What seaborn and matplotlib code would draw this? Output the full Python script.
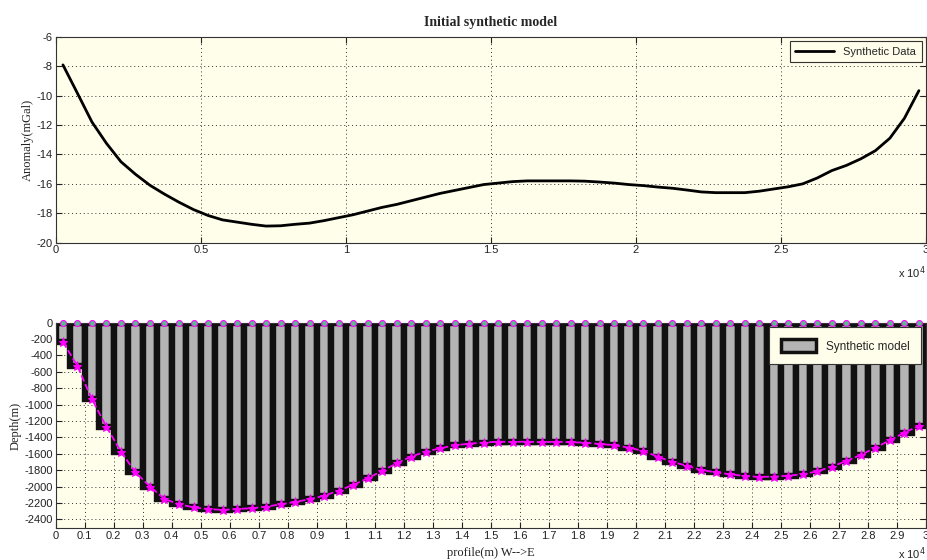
import numpy as np
import pandas as pd
import matplotlib
matplotlib.use("Agg")
import matplotlib.pyplot as plt
import seaborn as sns
from matplotlib.patches import Patch
from matplotlib.lines import Line2D

# ---------------- data ----------------
profile_x = [250 + 500 * i for i in range(60)]  # station positions (m)

anomaly = [-7.92, -9.85, -11.8, -13.25, -14.5, -15.35, -16.1, -16.7, -17.25, -17.75,
           -18.15, -18.45, -18.6, -18.75, -18.87, -18.85, -18.75, -18.67, -18.5, -18.3,
           -18.1, -17.85, -17.6, -17.4, -17.15, -16.9, -16.65, -16.45, -16.25, -16.05,
           -15.95, -15.85, -15.8, -15.8, -15.8, -15.8, -15.82, -15.88, -15.95, -16.05,
           -16.12, -16.22, -16.3, -16.42, -16.55, -16.6, -16.6, -16.6, -16.5, -16.35,
           -16.2, -16.0, -15.6, -15.1, -14.75, -14.3, -13.75, -12.9, -11.55, -9.67]

depth = [-235, -530, -935, -1270, -1575, -1827, -2000, -2152, -2217, -2254,
         -2274, -2286, -2274, -2266, -2246, -2217, -2189, -2154, -2113, -2050,
         -1981, -1900, -1810, -1717, -1635, -1574, -1534, -1497, -1477, -1464,
         -1452, -1456, -1452, -1460, -1452, -1460, -1464, -1481, -1495, -1525,
         -1566, -1635, -1700, -1745, -1798, -1827, -1851, -1871, -1883, -1879,
         -1867, -1851, -1814, -1757, -1688, -1615, -1525, -1436, -1342, -1261]

surface = [0] * 60

top_xticks = [0, 5000, 10000, 15000, 20000, 25000, 30000]
top_yticks = [-20, -18, -16, -14, -12, -10, -8, -6]
bot_xticks = [1000 * i for i in range(31)]
bot_yticks = [0, -200, -400, -600, -800, -1000, -1200, -1400, -1600, -1800,
              -2000, -2200, -2400]

df = pd.DataFrame({"x": profile_x, "anomaly": anomaly, "depth": depth, "surface": surface})

# ---------------- style ----------------
sns.set_theme(style="ticks")
plt.rcParams["font.family"] = ["Liberation Sans", "DejaVu Sans"]
plt.rcParams["axes.linewidth"] = 0.8
plt.rcParams["axes.edgecolor"] = "#333333"

CREAM = "#fffeeb"
SERIF = ["Liberation Serif", "DejaVu Serif"]

fig = plt.figure(figsize=(9.28, 5.60), dpi=100)
ax1 = fig.add_axes([0.060, 0.5666, 0.938, 0.368])
ax2 = fig.add_axes([0.060, 0.0566, 0.938, 0.3672])

def style_axes(ax):
    ax.set_facecolor(CREAM)
    ax.tick_params(direction="in", top=True, right=True, labelsize=8, length=4,
                   width=0.8, colors="#222222", pad=2)
    ax.grid(True, linestyle=(0, (1, 3)), color="#333333", linewidth=0.7)
    for s in ax.spines.values():
        s.set_visible(True)
        s.set_color("#333333")

# ---------------- top panel ----------------
sns.lineplot(data=df, x="x", y="anomaly", ax=ax1, color="black", linewidth=2.0,
             label="Synthetic Data", legend=False)
ax1.set_xlim(0, 30000)
ax1.set_ylim(-20, -6)
ax1.set_xticks(top_xticks)
ax1.set_xticklabels([f"{v/1e4:g}" for v in top_xticks])
ax1.set_yticks(top_yticks)
ax1.set_yticklabels([str(v) for v in top_yticks])
style_axes(ax1)
ax1.set_xlabel("")
ax1.set_ylabel("Anomaly(mGal)", family=SERIF, fontsize=9, color="#222222", labelpad=2)
ax1.set_title("Initial synthetic model", family=SERIF, fontsize=10, fontweight="bold",
              pad=8)
leg1 = ax1.legend(handles=[Line2D([], [], color="black", lw=2.0)], labels=["Synthetic Data"],
                  loc="upper right", fontsize=8, frameon=True, fancybox=False,
                  edgecolor="#333333", facecolor=CREAM, framealpha=1,
                  borderaxespad=0.4, handlelength=3.5, borderpad=0.5)
leg1.get_frame().set_linewidth(0.8)
fig.text(0.997, 0.513, r"x 10$^4$", fontsize=8, ha="right", va="center", color="#222222")

# ---------------- bottom panel ----------------
sns.barplot(data=df, x="x", y="depth", ax=ax2, native_scale=True, width=1.0,
            color="#b4b4b4", saturation=1, edgecolor="#111111", linewidth=4.6,
            errorbar=None, zorder=2)
sns.lineplot(data=df, x="x", y="depth", ax=ax2, color="#ff00ff", linewidth=1.3,
             linestyle="--", marker="*", markersize=6.5, markeredgecolor="#ff00ff",
             markerfacecolor="#ff00ff", zorder=4)
sns.scatterplot(data=df, x="x", y="surface", ax=ax2, marker="o", s=18,
                facecolor="#55c08a", edgecolor="#ff00ff", linewidth=0.8,
                clip_on=False, zorder=5)
ax2.set_xlim(0, 30000)
ax2.set_ylim(-2510, 0)
ax2.set_xticks(bot_xticks)
ax2.set_xticklabels([f"{v/1e4:g}" for v in bot_xticks])
ax2.set_yticks(bot_yticks)
ax2.set_yticklabels([str(v) for v in bot_yticks])
style_axes(ax2)
ax2.set_axisbelow(True)
ax2.set_xlabel("profile(m) W-->E", family=SERIF, fontsize=9, color="#222222", labelpad=4)
ax2.set_ylabel("Depth(m)", family=SERIF, fontsize=9, color="#222222", labelpad=2)
leg2 = ax2.legend(handles=[Patch(facecolor="#b4b4b4", edgecolor="#111111", linewidth=2.5)],
                  labels=["Synthetic model"], loc="upper right", fontsize=8.5,
                  frameon=True, fancybox=False, edgecolor="#333333", facecolor=CREAM,
                  framealpha=1, borderaxespad=0.4, handlelength=3.0, handleheight=1.3,
                  borderpad=1.0)
leg2.get_frame().set_linewidth(0.8)
leg2.set_zorder(10)
fig.text(0.997, 0.012, r"x 10$^4$", fontsize=8, ha="right", va="center", color="#222222")

fig.savefig("out.png", dpi=100)
